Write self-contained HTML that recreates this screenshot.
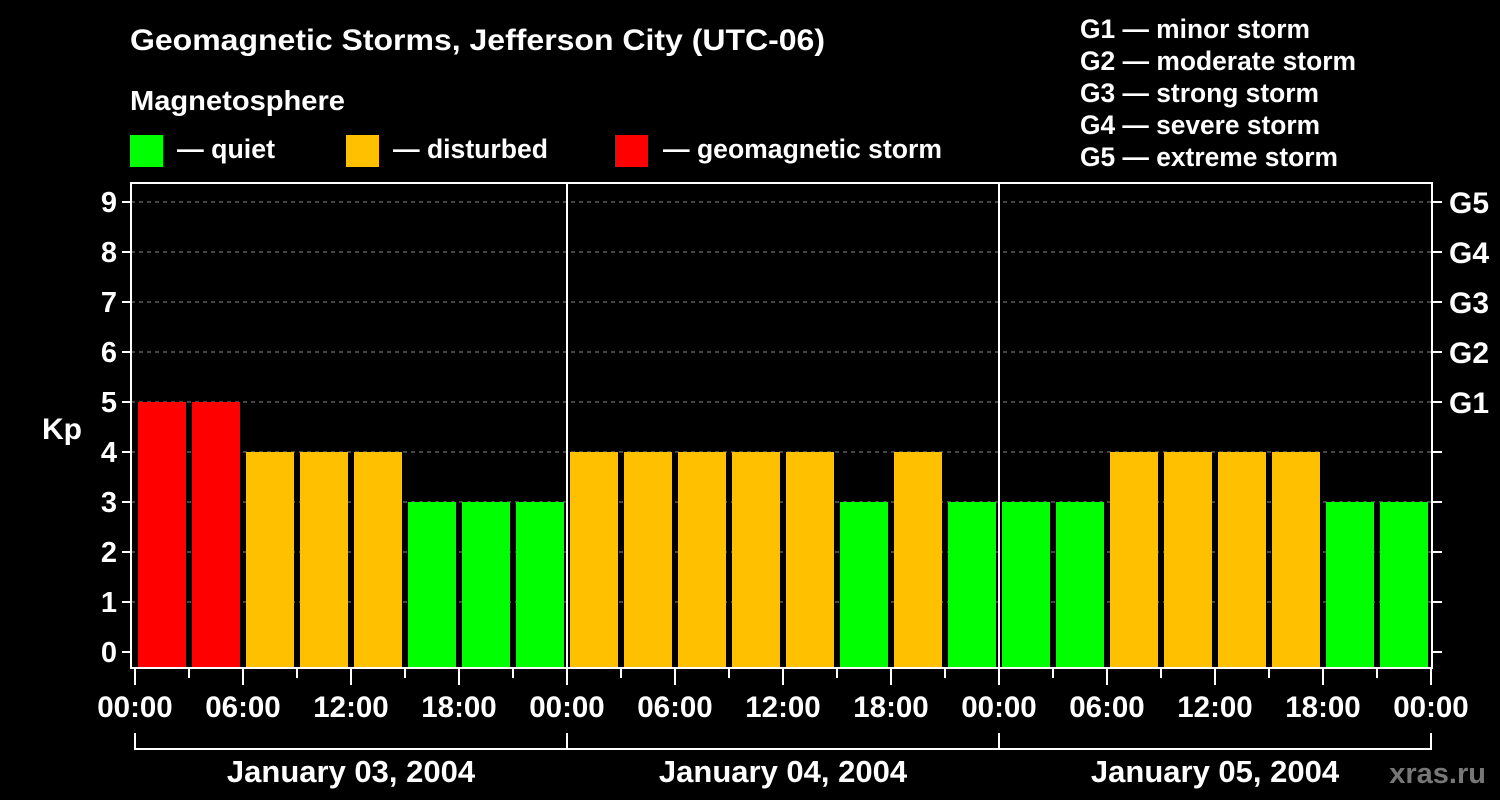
<!DOCTYPE html>
<html><head><meta charset="utf-8"><style>
body{margin:0;background:#000;width:1500px;height:800px;overflow:hidden}
svg{display:block}
text{font-family:"Liberation Sans",sans-serif;font-weight:bold;fill:#fff}
</style></head><body>
<svg id="c" width="1500" height="800">
<text x="130" y="50" font-size="30" textLength="695" lengthAdjust="spacingAndGlyphs">Geomagnetic Storms, Jefferson City (UTC-06)</text>
<text x="130" y="110" font-size="28" textLength="215" lengthAdjust="spacingAndGlyphs">Magnetosphere</text>
<rect x="130" y="135" width="33" height="32" fill="#00ff00"/>
<text x="177" y="158" font-size="27" textLength="98" lengthAdjust="spacingAndGlyphs">— quiet</text>
<rect x="346" y="135" width="33" height="32" fill="#ffc000"/>
<text x="393" y="158" font-size="27" textLength="155" lengthAdjust="spacingAndGlyphs">— disturbed</text>
<rect x="615" y="135" width="33" height="32" fill="#ff0000"/>
<text x="663" y="158" font-size="27" textLength="279" lengthAdjust="spacingAndGlyphs">— geomagnetic storm</text>
<g font-size="27">
<text x="1080" y="38" textLength="230" lengthAdjust="spacingAndGlyphs">G1 — minor storm</text>
<text x="1080" y="70" textLength="276" lengthAdjust="spacingAndGlyphs">G2 — moderate storm</text>
<text x="1080" y="102" textLength="239" lengthAdjust="spacingAndGlyphs">G3 — strong storm</text>
<text x="1080" y="134" textLength="240" lengthAdjust="spacingAndGlyphs">G4 — severe storm</text>
<text x="1080" y="166" textLength="258" lengthAdjust="spacingAndGlyphs">G5 — extreme storm</text>
</g>
<text x="42" y="439" font-size="30">Kp</text>
<text x="1486" y="783" font-size="29" style="fill:#777" text-anchor="end">xras.ru</text>
<g id="g"></g>
</svg>
<script>
const kpValues=[5,5,4,4,4,3,3,3, 4,4,4,4,4,3,4,3, 3,3,4,4,4,4,3,3];
const dayLabels=["January 03, 2004","January 04, 2004","January 05, 2004"];
const hourLabels=["00:00","06:00","12:00","18:00"];
const yTicks=[0,1,2,3,4,5,6,7,8,9];
const gLabels=["G1","G2","G3","G4","G5"];
const x0=135,slot=54,y0=652,unit=50,plotTop=183,plotBot=668,plotLeft=131,plotRight=1432;
const X=i=>x0+i*slot, Y=v=>y0-v*unit;
const g=document.getElementById('g');const NS='http://www.w3.org/2000/svg';
function mk(t,a,txt){const e=document.createElementNS(NS,t);for(const k in a)e.setAttribute(k,a[k]);if(txt!=null)e.textContent=txt;g.appendChild(e);return e;}
yTicks.forEach(v=>{
 if(v>0){const l=mk('line',{x1:plotLeft,x2:plotRight,y1:Y(v),y2:Y(v),stroke:'#888','stroke-dasharray':'4,4','stroke-width':1});
 
 }
 const t=mk('line',{x1:plotLeft-9,x2:plotLeft,y1:Y(v),y2:Y(v),stroke:'#fff','stroke-width':2});
 
 
 const r=mk('line',{x1:plotRight,x2:plotRight+10,y1:Y(v),y2:Y(v),stroke:'#fff','stroke-width':2});
 
 
 const tl=mk('text',{x:plotLeft-14,y:Y(v)+10,'font-size':29,'text-anchor':'end'},String(v));
 
 
});
gLabels.forEach((s,i)=>{const t=mk('text',{x:1449,y:Y(5+i)+11,'font-size':30},s);
 
 });
kpValues.forEach((v,i)=>{
 const c=v>=5?'#ff0000':v>=4?'#ffc000':'#00ff00';
 const b=mk('rect',{x:X(i)+3,y:Y(v),width:48,height:plotBot-Y(v),fill:c});
 
 
});
const fr=mk('rect',{x:plotLeft,y:plotTop,width:plotRight-plotLeft,height:plotBot-plotTop,fill:'none',stroke:'#fff','stroke-width':2});


for(let d=0;d<=dayLabels.length;d++){
 const xd=X(d*8);
 if(d>0&&d<dayLabels.length){const l=mk('line',{x1:xd,x2:xd,y1:plotTop,y2:plotBot,stroke:'#fff','stroke-width':2});
 
 }
 const bl=mk('line',{x1:xd,x2:xd,y1:733,y2:750,stroke:'#fff','stroke-width':2});
 
 
}
const br=mk('line',{x1:X(0),x2:X(24),y1:749,y2:749,stroke:'#fff','stroke-width':2});


dayLabels.forEach((s,d)=>{const t=mk('text',{x:(X(d*8)+X(d*8+8))/2,y:782,'font-size':31,'text-anchor':'middle'},s);
 
 });
for(let i=0;i<=24;i++){
 const major=i%2===0;
 const t=mk('line',{x1:X(i),x2:X(i),y1:plotBot,y2:major?685:678,stroke:'#fff','stroke-width':2});
 
 
 if(major){const l=mk('text',{x:X(i),y:717,'font-size':29.5,'text-anchor':'middle'},hourLabels[(i/2)%4]);
 
 }
}
</script>
</body></html>
